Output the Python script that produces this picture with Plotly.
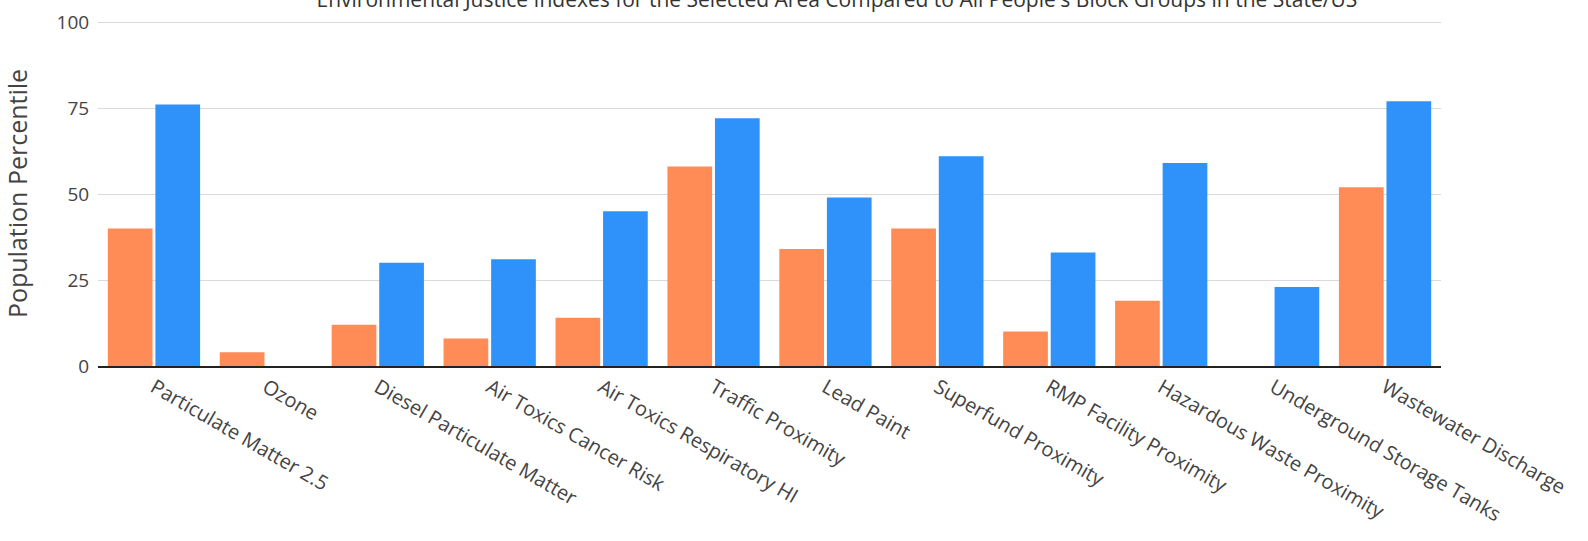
import plotly.graph_objects as go

categories = ["Particulate Matter 2.5", "Ozone", "Diesel Particulate Matter",
              "Air Toxics Cancer Risk", "Air Toxics Respiratory HI", "Traffic Proximity",
              "Lead Paint", "Superfund Proximity", "RMP Facility Proximity",
              "Hazardous Waste Proximity", "Underground Storage Tanks", "Wastewater Discharge"]
state_pct = [40, 4, 12, 8, 14, 58, 34, 40, 10, 19, 0, 52]
usa_pct = [76, 0, 30, 31, 45, 72, 49, 61, 33, 59, 23, 77]
y_ticks = [0, 25, 50, 75, 100]

fig = go.Figure()
fig.add_trace(go.Bar(x=categories, y=state_pct, name="State Percentile",
                     marker=dict(color="#FF8C57", line=dict(width=0))))
fig.add_trace(go.Bar(x=categories, y=usa_pct, name="USA Percentile",
                     marker=dict(color="#2F92FA", line=dict(width=0))))

fig.update_layout(
    width=1588, height=541,
    margin=dict(l=98, r=147, t=21, b=175, autoexpand=False),
    paper_bgcolor="white", plot_bgcolor="white",
    font=dict(family="Open Sans", color="#444"),
    showlegend=False,
    barmode="group", bargap=0.15, bargroupgap=0.06,
    title=dict(text="Environmental Justice Indexes for the Selected Area Compared to All People's Block Groups in the State/US",
               x=0.527, xanchor="center", xref="container",
               y=1.0, yanchor="middle", yref="container",
               font=dict(size=21, color="#333")),
)
fig.update_xaxes(tickangle=30, tickfont=dict(size=20, color="#444"), automargin=False,
                 showline=True, linecolor="#222", linewidth=2, showgrid=False)
fig.update_yaxes(range=[0, 100.3], tickvals=y_ticks, tickfont=dict(size=19, color="#444"),
                 automargin=False,
                 showgrid=True, gridcolor="#d9d9d9", gridwidth=1, zeroline=False,
                 ticks="outside", ticklen=4, tickcolor="white",
                 title=dict(text="Population Percentile", font=dict(size=25, color="#444"), standoff=31))

fig.write_html("out.html", config={"displayModeBar": False},
               post_script="document.body.style.margin='0';")
